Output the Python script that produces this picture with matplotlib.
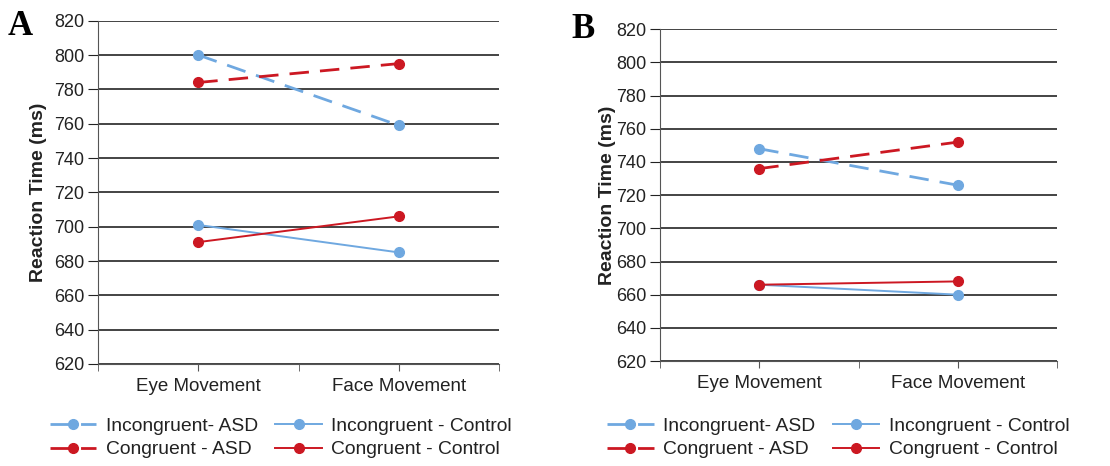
import matplotlib
matplotlib.use("Agg")
import matplotlib.pyplot as plt

categories = ["Eye Movement", "Face Movement"]
yticks = [620, 640, 660, 680, 700, 720, 740, 760, 780, 800, 820]
series_names = ["Incongruent- ASD", "Congruent - ASD", "Incongruent - Control", "Congruent - Control"]

a_incong_asd = [800, 759]
a_cong_asd = [784, 795]
a_incong_ctrl = [701, 685]
a_cong_ctrl = [691, 706]

b_incong_asd = [748, 726]
b_cong_asd = [736, 752]
b_incong_ctrl = [666, 660]
b_cong_ctrl = [666, 668]

BLUE = "#6fa8e0"
RED = "#cc1822"

plt.rcParams['font.family'] = ['Liberation Sans', 'DejaVu Sans']

fig = plt.figure(figsize=(11.1, 4.66), dpi=100)

def panel(rect, data, letter, letter_pos, legend_pos, labelpad):
    ax = fig.add_axes(rect)
    x = list(range(len(categories)))
    styles = [(BLUE, (0, (7, 4))), (RED, (0, (7, 4))), (BLUE, '-'), (RED, '-')]
    handles = []
    for vals, (c, ls), name in zip(data, styles, series_names):
        h, = ax.plot(x, vals, color=c, linestyle=ls, lw=2.0 if ls != '-' else 1.4,
                     marker='o', ms=7, mfc=c, mec=c, label=name, zorder=3)
        handles.append(h)
    ax.set_xlim(-0.5, 1.5)
    ax.set_ylim(620, 820)
    ax.set_yticks(yticks)
    ax.set_yticklabels([str(v) for v in yticks], fontsize=13, color='#222222')
    ax.set_xticks([0, 1])
    ax.set_xticklabels(categories, fontsize=13.5, color='#222222')
    ax.set_xticks([-0.5, 0.5, 1.5], minor=True)
    ax.tick_params(axis='x', which='both', length=5, color='#555555', direction='out', pad=5)
    ax.tick_params(axis='y', length=7, color='#222222', pad=3)
    ax.grid(axis='y', color='#111111', lw=1.1, zorder=1)
    for s in ['top', 'right']:
        ax.spines[s].set_visible(False)
    ax.spines['left'].set_color('#555555')
    ax.spines['bottom'].set_color('#555555')
    ax.set_ylabel("Reaction Time (ms)", fontsize=14, fontweight='bold', color='#222222',
                  labelpad=labelpad)
    fig.text(letter_pos[0], letter_pos[1], letter, fontsize=25, fontweight='bold',
             family='Liberation Serif', ha='left', va='top')
    leg = fig.legend(handles=handles, ncol=2, loc='center left', bbox_to_anchor=legend_pos,
                     frameon=False, fontsize=13.9, handlelength=2.4, handletextpad=0.5,
                     columnspacing=0.9, labelspacing=0.3, borderaxespad=0, borderpad=0)
    for t in leg.get_texts():
        t.set_color('#222222')
    return ax

panel([0.0883, 0.2189, 0.3613, 0.7367],
      [a_incong_asd, a_cong_asd, a_incong_ctrl, a_cong_ctrl], "A",
      (0.007, 0.978), (0.045, 0.06), 5)
panel([0.5946, 0.2253, 0.3577, 0.7118],
      [b_incong_asd, b_cong_asd, b_incong_ctrl, b_cong_ctrl], "B",
      (0.5145, 0.973), (0.547, 0.06), 0)

fig.savefig("out.png", dpi=100)
